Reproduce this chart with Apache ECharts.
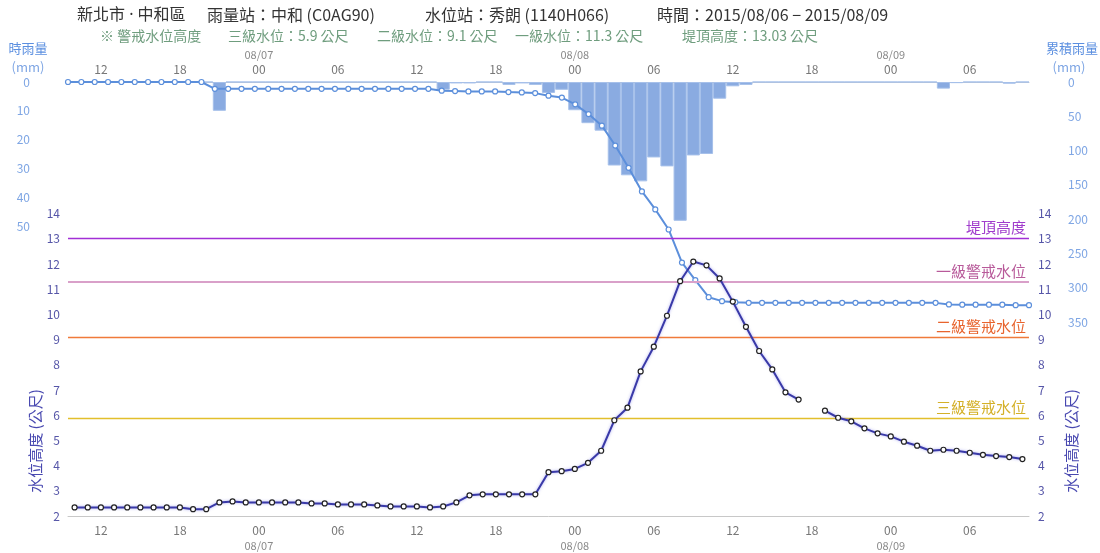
<!DOCTYPE html>
<html><head><meta charset="utf-8">
<script src="https://cdn.jsdelivr.net/npm/echarts@6/dist/echarts.min.js"></script>
<style>html,body{margin:0;padding:0;background:#fff}#c{width:1100px;height:553px}</style>
</head><body><div id="c"></div>
<script>
// ---- data ----
const startUTC = Date.UTC(2015, 7, 6, 10); // 2015/08/06 10:00
const hourCount = 73;                       // to 2015/08/09 10:00
const categories = [];
for (let i = 0; i < hourCount; i++) {
  const d = new Date(startUTC + i * 3600000);
  const mm = String(d.getUTCMonth() + 1).padStart(2, '0');
  const dd = String(d.getUTCDate()).padStart(2, '0');
  const hh = String(d.getUTCHours()).padStart(2, '0');
  categories.push(mm + '/' + dd + ' ' + hh);
}

// hourly rainfall (mm), 08/06 10:00 .. 08/09 10:00
const hourlyRain = [
  0,0,0,0,0,0,0,0,0,0,0,10,0,0,
  0,0,0,0,0,0,0,0,0,0,0,0,0,0,2.7,0.5,0.5,0,0,1,0.5,1,3.8,2.7,
  9.8,14.3,16.9,29,32.4,34.5,26.2,29.3,48.2,25.5,25,5.8,1.5,1,0,0,0,0,0,0,0,0,0,0,
  0,0,0,0,2.3,0.4,0,0,0,0.6,0
];

// cumulative rainfall (mm)
const cumulativeRain = [
  0,0,0,0,0,0,0,0,0,0,0,10,10,10,
  10,10,10,10,10,10,10,10,10,10,10,10,10,10,12.7,13.2,13.7,13.7,13.7,14.7,15.2,16.2,20.0,22.7,
  32.5,46.8,63.7,92.7,125.1,159.6,185.8,215.1,263.3,288.8,313.8,319.6,321.1,322.1,322.1,322.1,322.1,322.1,322.1,322.1,322.1,322.1,322.1,322.1,
  322.1,322.1,322.1,322.1,324.4,324.8,324.8,324.8,324.8,325.4,325.4
];

// water level (m)
const waterLevel = [
  2.34,2.34,2.34,2.34,2.34,2.34,2.34,2.34,2.34,2.27,2.27,2.54,2.58,2.54,
  2.54,2.54,2.54,2.54,2.50,2.50,2.46,2.46,2.46,2.42,2.38,2.38,2.38,2.34,2.38,2.54,2.82,2.86,2.86,2.86,2.86,2.86,3.74,3.78,
  3.87,4.11,4.59,5.80,6.30,7.74,8.72,9.95,11.32,12.10,11.95,11.43,10.51,9.51,8.55,7.82,6.91,6.62,null,6.18,5.90,5.76,5.48,5.28,
  5.16,4.95,4.79,4.59,4.63,4.59,4.51,4.43,4.38,4.34,4.26
];

const warningLevels = [13.03, 11.3, 9.1, 5.9];
const warningNames = ['堤頂高度', '一級警戒水位', '二級警戒水位', '三級警戒水位'];
const warningLineColors = ['#a22fd6', '#d9a0c9', '#f07a3a', '#e2bf2c'];
const warningTextColors = ['#a03ccc', '#b85a9a', '#e8642e', '#d4b028'];

// ---- chart ----
const FONT = '"Noto Sans CJK TC", "Noto Sans", sans-serif';
const TFONT = '"Noto Sans", "Noto Sans CJK TC", sans-serif';
const isMajor = (idx, val) => parseInt(val.split(' ')[1], 10) % 6 === 0;
const fmtTop = v => { const [d, h] = v.split(' '); return h === '00' ? '{d|' + d + '}\n' + h : h; };
const fmtBottom = v => { const [d, h] = v.split(' '); return h === '00' ? h + '\n{d|' + d + '}' : h; };
const gridL = 68, gridR = 71;

const xBase = {
  type: 'category', data: categories,
  axisLine: { lineStyle: { color: '#c8c8c8' } },
  axisTick: { interval: isMajor, alignWithLabel: true, length: 4, lineStyle: { color: '#c8c8c8' } },
  splitLine: { show: false }
};

const chart = echarts.init(document.getElementById('c'));
chart.setOption({
  animation: false,
  textStyle: { fontFamily: FONT },
  grid: [
    { left: gridL, right: gridR, top: 82, height: 240 },
    { left: gridL, right: gridR, top: 213.7, height: 303.3 }
  ],
  xAxis: [
    Object.assign({}, xBase, {
      gridIndex: 0, position: 'top', boundaryGap: true,
      axisLabel: { interval: isMajor, formatter: fmtTop, color: '#777', fontSize: 12, margin: 6, lineHeight: 14,
        rich: { d: { fontSize: 11, color: '#8a8a8a', lineHeight: 14 } } }
    }),
    { type: 'category', data: categories, gridIndex: 0, boundaryGap: false, show: false },
    Object.assign({}, xBase, {
      gridIndex: 1, position: 'bottom', boundaryGap: true,
      axisLabel: { interval: isMajor, formatter: fmtBottom, color: '#777', fontSize: 12, margin: 7, lineHeight: 15,
        rich: { d: { fontSize: 11, color: '#8a8a8a', lineHeight: 15 } } }
    })
  ],
  yAxis: [
    { gridIndex: 0, type: 'value', inverse: true, min: 0, max: 240 / 2.88, interval: 10,
      axisLine: { show: false }, axisTick: { show: false }, splitLine: { show: false },
      axisLabel: { color: '#7fa6e4', fontSize: 12, margin: 38, formatter: v => v <= 50 ? String(v) : '' } },
    { gridIndex: 0, type: 'value', inverse: true, position: 'right', min: 0, max: 350, interval: 50,
      axisLine: { show: false }, axisTick: { show: false }, splitLine: { show: false },
      axisLabel: { color: '#7fa6e4', fontSize: 12, margin: 39 } },
    { gridIndex: 1, type: 'value', min: 2, max: 14, interval: 1,
      axisLine: { show: false }, axisTick: { show: false }, splitLine: { show: false },
      axisLabel: { color: '#5656a8', fontSize: 12, margin: 8 } },
    { gridIndex: 1, type: 'value', position: 'right', min: 2, max: 14, interval: 1,
      axisLine: { show: false }, axisTick: { show: false }, splitLine: { show: false },
      axisLabel: { color: '#5656a8', fontSize: 12, margin: 9 } }
  ],
  series: [
    { name: '時雨量', type: 'bar', xAxisIndex: 0, yAxisIndex: 0, data: hourlyRain,
      barCategoryGap: '0%', z: 2,
      itemStyle: { color: '#8aabe1', borderColor: '#a6c0ea', borderWidth: 1 } },
    { name: '累積雨量', type: 'line', xAxisIndex: 1, yAxisIndex: 1, data: cumulativeRain,
      symbol: 'circle', symbolSize: 5, z: 4,
      lineStyle: { color: '#5c8fdb', width: 2 },
      itemStyle: { color: '#fff', borderColor: '#5c8fdb', borderWidth: 1.2 } },
    { name: '水位', type: 'line', xAxisIndex: 2, yAxisIndex: 2, data: waterLevel,
      symbol: 'circle', symbolSize: 5, connectNulls: false, z: 5,
      lineStyle: { color: '#3a3aa8', width: 2, shadowColor: 'rgba(110,110,230,0.55)', shadowBlur: 3 },
      itemStyle: { color: '#fff', borderColor: '#222', borderWidth: 1.2 },
      markLine: {
        silent: true, symbol: ['none', 'none'], animation: false,
        data: warningLevels.map((v, i) => ({
          yAxis: v,
          lineStyle: { color: warningLineColors[i], width: i === 1 ? 2 : 1.3, type: 'solid' },
          label: { show: true, formatter: warningNames[i], position: 'insideEndTop',
            color: warningTextColors[i], fontSize: 15, distance: [3, 3], fontFamily: FONT }
        }))
      } }
  ],
  graphic: [
    { type: 'text', left: 77, top: 7, style: { text: '新北市 · 中和區', fill: '#333', font: '16px ' + TFONT } },
    { type: 'text', left: 207, top: 7, style: { text: '雨量站：中和 (C0AG90)', fill: '#333', font: '16px ' + FONT } },
    { type: 'text', left: 425, top: 7, style: { text: '水位站：秀朗 (1140H066)', fill: '#333', font: '16px ' + FONT } },
    { type: 'text', left: 657, top: 7, style: { text: '時間：2015/08/06 − 2015/08/09', fill: '#333', font: '16px ' + FONT } },
    { type: 'text', left: 100, top: 29, style: { text: '※ 警戒水位高度', fill: '#6f9d7e', font: '14px ' + FONT } },
    { type: 'text', left: 228, top: 29, style: { text: '三級水位：5.9 公尺', fill: '#6f9d7e', font: '14px ' + FONT } },
    { type: 'text', left: 377, top: 29, style: { text: '二級水位：9.1 公尺', fill: '#6f9d7e', font: '14px ' + FONT } },
    { type: 'text', left: 515, top: 29, style: { text: '一級水位：11.3 公尺', fill: '#6f9d7e', font: '14px ' + FONT } },
    { type: 'text', left: 682, top: 29, style: { text: '堤頂高度：13.03 公尺', fill: '#6f9d7e', font: '14px ' + FONT } },
    { type: 'text', x: 28, y: 48, style: { text: '時雨量', fill: '#5b8fe0', font: '13px ' + FONT, textAlign: 'center', textVerticalAlign: 'middle' } },
    { type: 'text', x: 28, y: 67, style: { text: '(mm)', fill: '#7fa6e4', font: '13px ' + FONT, textAlign: 'center', textVerticalAlign: 'middle' } },
    { type: 'text', x: 1072, y: 48, style: { text: '累積雨量', fill: '#5b8fe0', font: '13px ' + FONT, textAlign: 'center', textVerticalAlign: 'middle' } },
    { type: 'text', x: 1069, y: 67, style: { text: '(mm)', fill: '#7fa6e4', font: '13px ' + FONT, textAlign: 'center', textVerticalAlign: 'middle' } },
    { type: 'text', x: 35, y: 441, rotation: Math.PI / 2, style: { text: '水位高度 (公尺)', fill: '#4848b0', font: '15px ' + FONT, textAlign: 'center', textVerticalAlign: 'middle' } },
    { type: 'text', x: 1071, y: 441, rotation: Math.PI / 2, style: { text: '水位高度 (公尺)', fill: '#4848b0', font: '15px ' + FONT, textAlign: 'center', textVerticalAlign: 'middle' } }
  ]
});
</script>
</body></html>
